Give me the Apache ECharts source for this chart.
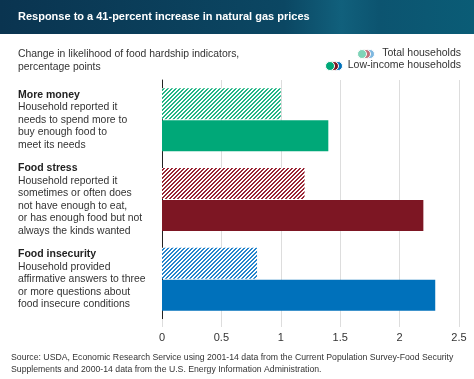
<!DOCTYPE html>
<html><head><meta charset="utf-8">
<script src="https://cdn.jsdelivr.net/npm/echarts@6/dist/echarts.min.js"></script>
<style>html,body{margin:0;padding:0;background:#fff}#c{width:474px;height:379px}</style>
</head><body><div id="c"></div>
<script>
var categories = ['More money', 'Food stress', 'Food insecurity'];
var categoryNotes = [
  ['Household reported it', 'needs to spend more to', 'buy enough food to', 'meet its needs'],
  ['Household reported it', 'sometimes or often does', 'not have enough to eat,', 'or has enough food but not', 'always the kinds wanted'],
  ['Household provided', 'affirmative answers to three', 'or more questions about', 'food insecure conditions']
];
var seriesNames = ['Total households', 'Low-income households'];
var totalValues = [1.0, 1.2, 0.8];
var lowIncomeValues = [1.4, 2.2, 2.3];
var xTicks = [0, 0.5, 1, 1.5, 2, 2.5];

var solidColors = ['#00a878', '#7d1623', '#0071bb'];
var hatchColors = ['#22b585', '#9a2535', '#2585cc'];
var lightColors = ['#7fd3b8', '#c0707a', '#7fb8e0'];

function hatch(color) {
  var c = document.createElement('canvas');
  c.width = 4; c.height = 4;
  var ctx = c.getContext('2d');
  ctx.fillStyle = '#ffffff';
  ctx.fillRect(0, 0, 4, 4);
  ctx.fillStyle = color;
  for (var r = 0; r < 4; r++) {
    var x0 = (3 - r + 4) % 4;
    ctx.fillRect(x0, r, 1, 1);
    ctx.fillRect((x0 + 1) % 4, r, 1, 1);
  }
  return {image: c, repeat: 'repeat'};
}

var FONT = '"Liberation Sans", Arial, sans-serif';
var chart = echarts.init(document.getElementById('c'), null, {renderer: 'canvas'});

function legendIcon(x, y, cols) {
  return [
    {type: 'circle', shape: {cx: x + 8, cy: y, r: 4.5}, style: {fill: cols[2], stroke: '#fff', lineWidth: 1}},
    {type: 'circle', shape: {cx: x + 4, cy: y, r: 4.5}, style: {fill: cols[1], stroke: '#fff', lineWidth: 1}},
    {type: 'circle', shape: {cx: x, cy: y, r: 4.5}, style: {fill: cols[0], stroke: '#fff', lineWidth: 1}}
  ];
}

var graphics = [
  {type: 'rect', shape: {x: 0, y: 0, width: 474, height: 34}, z: -1,
   style: {fill: new echarts.graphic.LinearGradient(0, 0, 1, 0, [
     {offset: 0, color: '#0a3450'}, {offset: 0.6, color: '#0b4763'}, {offset: 0.72, color: '#11607c'},
     {offset: 0.8, color: '#0c5470'}, {offset: 1, color: '#0a5c76'}])}},
  {type: 'text', left: 18, top: 11, style: {text: 'Response to a 41-percent increase in natural gas prices', fill: '#fff', font: 'bold 11px ' + FONT}},
  {type: 'text', left: 18, top: 48, style: {text: 'Change in likelihood of food hardship indicators,\npercentage points', fill: '#333', font: '10.4px ' + FONT, lineHeight: 12.5}},
  {type: 'text', right: 13, top: 48, style: {text: seriesNames[0], fill: '#333', font: '10.5px ' + FONT, align: 'right'}},
  {type: 'text', right: 13, top: 60, style: {text: seriesNames[1], fill: '#333', font: '10.5px ' + FONT, align: 'right'}},
  {type: 'text', left: 11, top: 351, style: {text: 'Source: USDA, Economic Research Service using 2001-14 data from the Current Population Survey-Food Security\nSupplements and 2000-14 data from the U.S. Energy Information Administration.', fill: '#333', font: '8.7px ' + FONT, lineHeight: 12.5}}
];
graphics = graphics.concat(legendIcon(362, 54, lightColors)).concat(legendIcon(330, 66, solidColors));

var option = {
  animation: false,
  backgroundColor: '#fff',
  grid: {left: 162, right: 15, top: 80, bottom: 60, containLabel: false},
  xAxis: {
    type: 'value', min: 0, max: 2.5, interval: 0.5,
    axisLine: {show: false},
    axisTick: {show: true, length: 8, lineStyle: {color: '#dddddd'}},
    splitLine: {show: true, lineStyle: {color: '#dddddd', width: 1}},
    axisLabel: {color: '#333', fontSize: 11, fontFamily: FONT, margin: 13,
      formatter: function (v) { return xTicks.indexOf(v) >= 0 ? String(v) : ''; }}
  },
  yAxis: {
    type: 'category', data: categories, inverse: true,
    axisLine: {show: true, lineStyle: {color: '#222', width: 1}},
    axisTick: {show: false},
    axisLabel: {
      align: 'left', margin: 144, verticalAlign: 'middle',
      formatter: function (v, i) {
        var s = '{h|' + v + '}';
        categoryNotes[i].forEach(function (l) { s += '\n{n|' + l + '}'; });
        return s;
      },
      rich: {
        h: {fontWeight: 'bold', fontSize: 10.5, fontFamily: FONT, color: '#222', lineHeight: 12.5},
        n: {fontSize: 10.4, fontFamily: FONT, color: '#333', lineHeight: 12.5}
      }
    }
  },
  series: [
    {name: seriesNames[0], type: 'bar', barWidth: 31, barGap: '3%',
     data: totalValues.map(function (v, i) { return {value: v, itemStyle: {color: hatch(hatchColors[i])}}; })},
    {name: seriesNames[1], type: 'bar', barWidth: 31, barGap: '3%',
     data: lowIncomeValues.map(function (v, i) { return {value: v, itemStyle: {color: solidColors[i]}}; })}
  ],
  graphic: graphics
};
chart.setOption(option);
</script></body></html>
